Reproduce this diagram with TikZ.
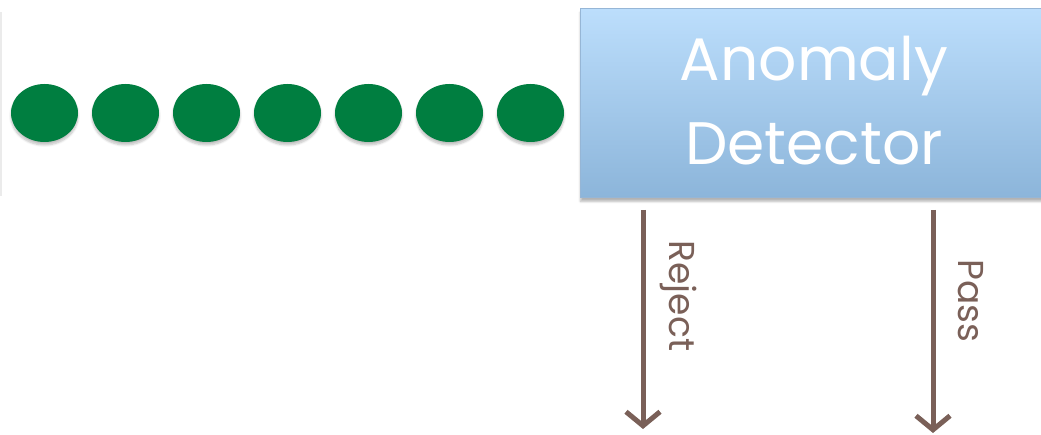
\documentclass[tikz,border=0pt]{standalone}
\usepackage{fontspec}
\setmainfont{Poppins}
\usetikzlibrary{arrows.meta,shadows.blur,shapes.geometric}
\definecolor{dotgreen}{RGB}{0,126,64}
\definecolor{flowbrown}{RGB}{122,96,88}
\definecolor{boxtop}{RGB}{188,222,252}
\definecolor{boxbottom}{RGB}{140,181,218}
\definecolor{boxedge}{RGB}{150,182,214}
\tikzset{
  token/.style={ellipse, minimum width=67pt, minimum height=58pt, inner sep=0pt,
    fill=dotgreen, blur shadow={shadow xshift=0pt, shadow yshift=-3pt, shadow blur steps=6, shadow opacity=25}},
  detector/.style={rectangle, draw=boxedge, line width=0.8pt, top color=boxtop, bottom color=boxbottom,
    blur shadow={shadow xshift=0pt, shadow yshift=-4pt, shadow blur steps=6, shadow opacity=30}},
  flow/.style={draw=flowbrown, line width=5pt, -{Straight Barb[length=14pt,width=34pt,line width=5pt]}},
  flowlabel/.style={text=flowbrown, font=\fontsize{36}{40}\selectfont, rotate=-90, inner sep=0pt},
}
\begin{document}
\begin{tikzpicture}[x=1pt,y=-1pt]
\useasboundingbox (0,0) rectangle (1041,435);
% edge of a box lying just off the left side
\fill[black!8] (0,12) rectangle (2,196);
% stream of tokens
\foreach \i in {0,...,6}{
  \node[token] (t\i) at (44.5+81*\i,113) {};
}
% detector box, running past the right edge
\node[detector, minimum width=500pt, minimum height=189pt, anchor=north west] (det) at (580,8) {};
\node[text=white, font=\fontsize{60}{84}\selectfont, align=center, inner sep=0pt] (dl) at (814,101) {Anomaly\\Detector};
% outcomes
\coordinate (rs) at (643,210);
\coordinate (re) at (643,429);
\coordinate (ps) at (933,210);
\coordinate (pe) at (933,433);
\draw[flow] (rs) -- (re);
\draw[flow] (ps) -- (pe);
\node[flowlabel] (rl) at (679,296) {Reject};
\node[flowlabel] (pl) at (971,301) {Pass};
\end{tikzpicture}
\end{document}
